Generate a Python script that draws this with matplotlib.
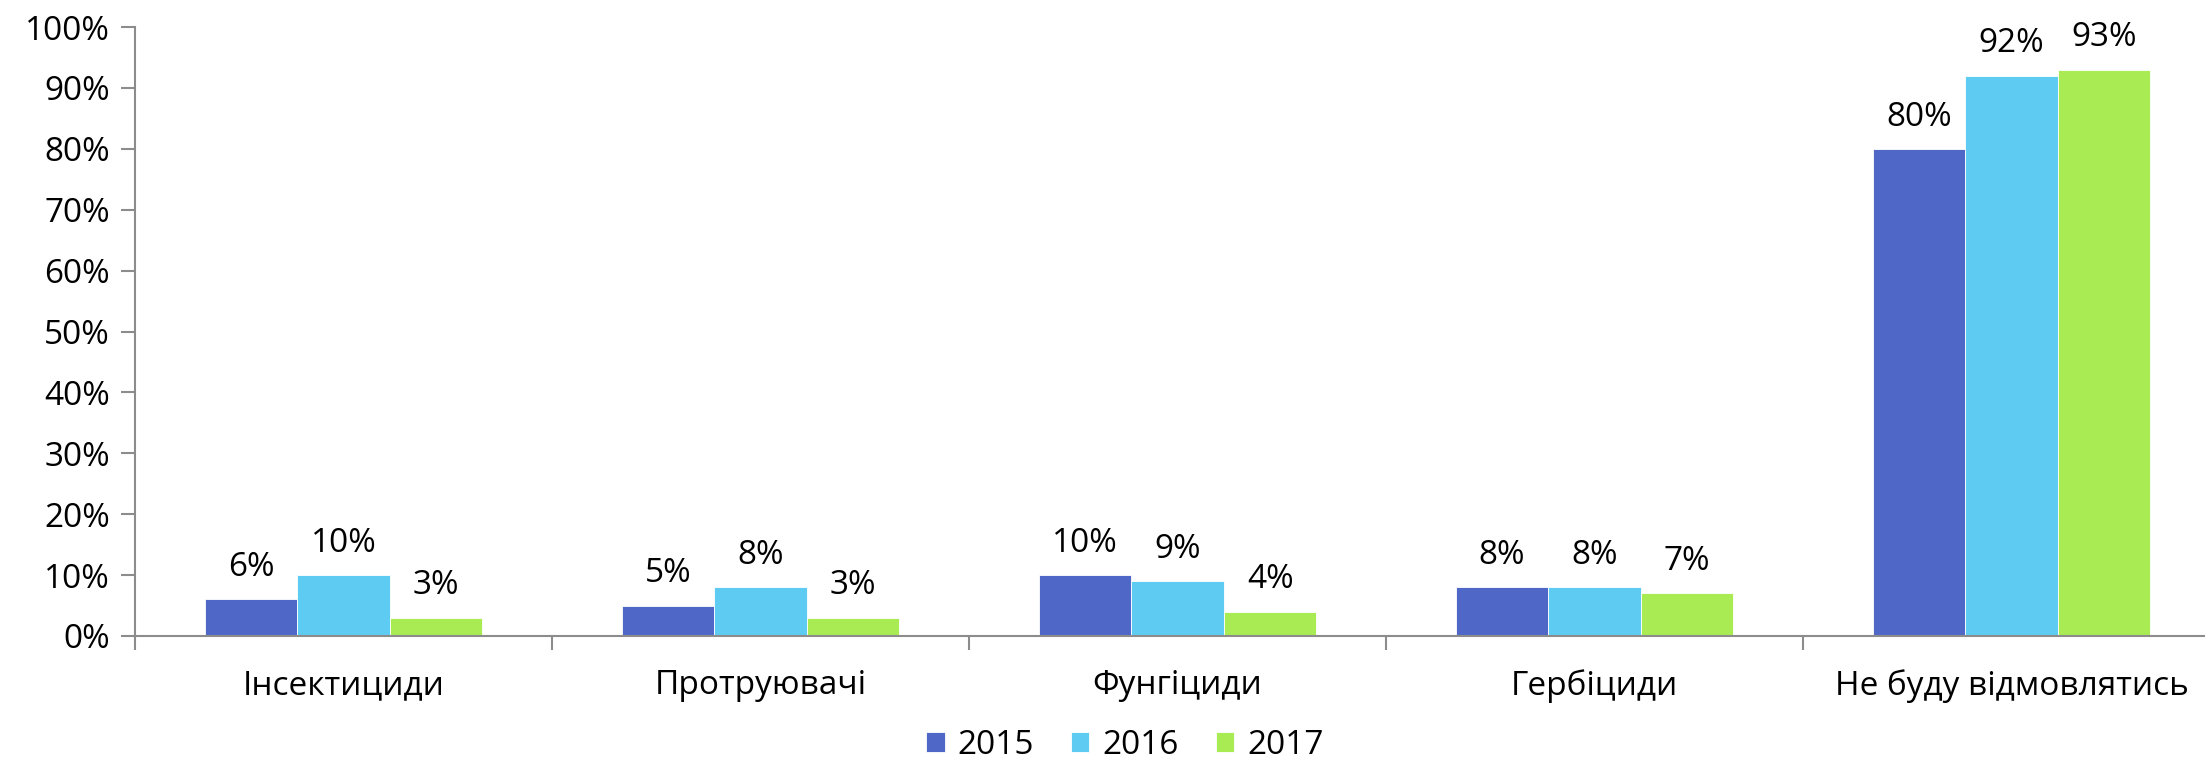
import matplotlib.pyplot as plt
import numpy as np

categories = ['Інсектициди', 'Протруювачі', 'Фунгіциди', 'Гербіциди', 'Не буду відмовлятись']
years = ['2015', '2016', '2017']
v2015 = [6, 5, 10, 8, 80]
v2016 = [10, 8, 9, 8, 92]
v2017 = [3, 3, 4, 7, 93]
colors = ['#4F68C7', '#5ECCF2', '#A9EB53']

plt.rcParams['font.family'] = ['Open Sans', 'DejaVu Sans']
fs = 24

fig = plt.figure(figsize=(22.05, 7.66), dpi=100)
# axes spans 5 categories of ~417 px each starting at x=135
ax = fig.add_axes([135 / 2205, 130 / 766, 2085 / 2205, 609 / 766])

x = np.arange(len(categories))
width = 0.222
gray = '#8C8C8C'

for i, (vals, lab) in enumerate(zip([v2015, v2016, v2017], years)):
    rects = ax.bar(x + (i - 1) * width, vals, width, color=colors[i], label=lab,
                   edgecolor='white', linewidth=0.6, zorder=2)
    for r, v in zip(rects, vals):
        ax.annotate('{}%'.format(v), xy=(r.get_x() + r.get_width() / 2, v),
                    xytext=(0, 11), textcoords='offset points',
                    ha='center', va='bottom', fontsize=fs)

ax.set_xlim(-0.5, 4.5)
ax.set_ylim(0, 100)
ax.set_yticks(range(0, 101, 10))
ax.set_yticklabels(['{}%'.format(t) for t in range(0, 101, 10)])
ax.set_xticks(x)
ax.set_xticklabels(categories)
ax.set_xticks(np.arange(-0.5, 5, 1), minor=True)
ax.tick_params(axis='x', which='major', length=0, pad=24, labelsize=fs)
ax.tick_params(axis='x', which='minor', length=10, color=gray, width=1.5)
ax.tick_params(axis='y', length=10, color=gray, width=1.5, pad=8, labelsize=fs)

for s in ['top', 'right']:
    ax.spines[s].set_visible(False)
for s in ['left', 'bottom']:
    ax.spines[s].set_color(gray)
    ax.spines[s].set_linewidth(1.5)

fig.legend(loc='center', bbox_to_anchor=(1125 / 2205, 1 - 745 / 766), ncol=3,
           frameon=False, fontsize=fs, handlelength=0.55, handleheight=0.55,
           handletextpad=0.4, columnspacing=1.1, borderpad=0)

fig.savefig('out.png', dpi=100)
